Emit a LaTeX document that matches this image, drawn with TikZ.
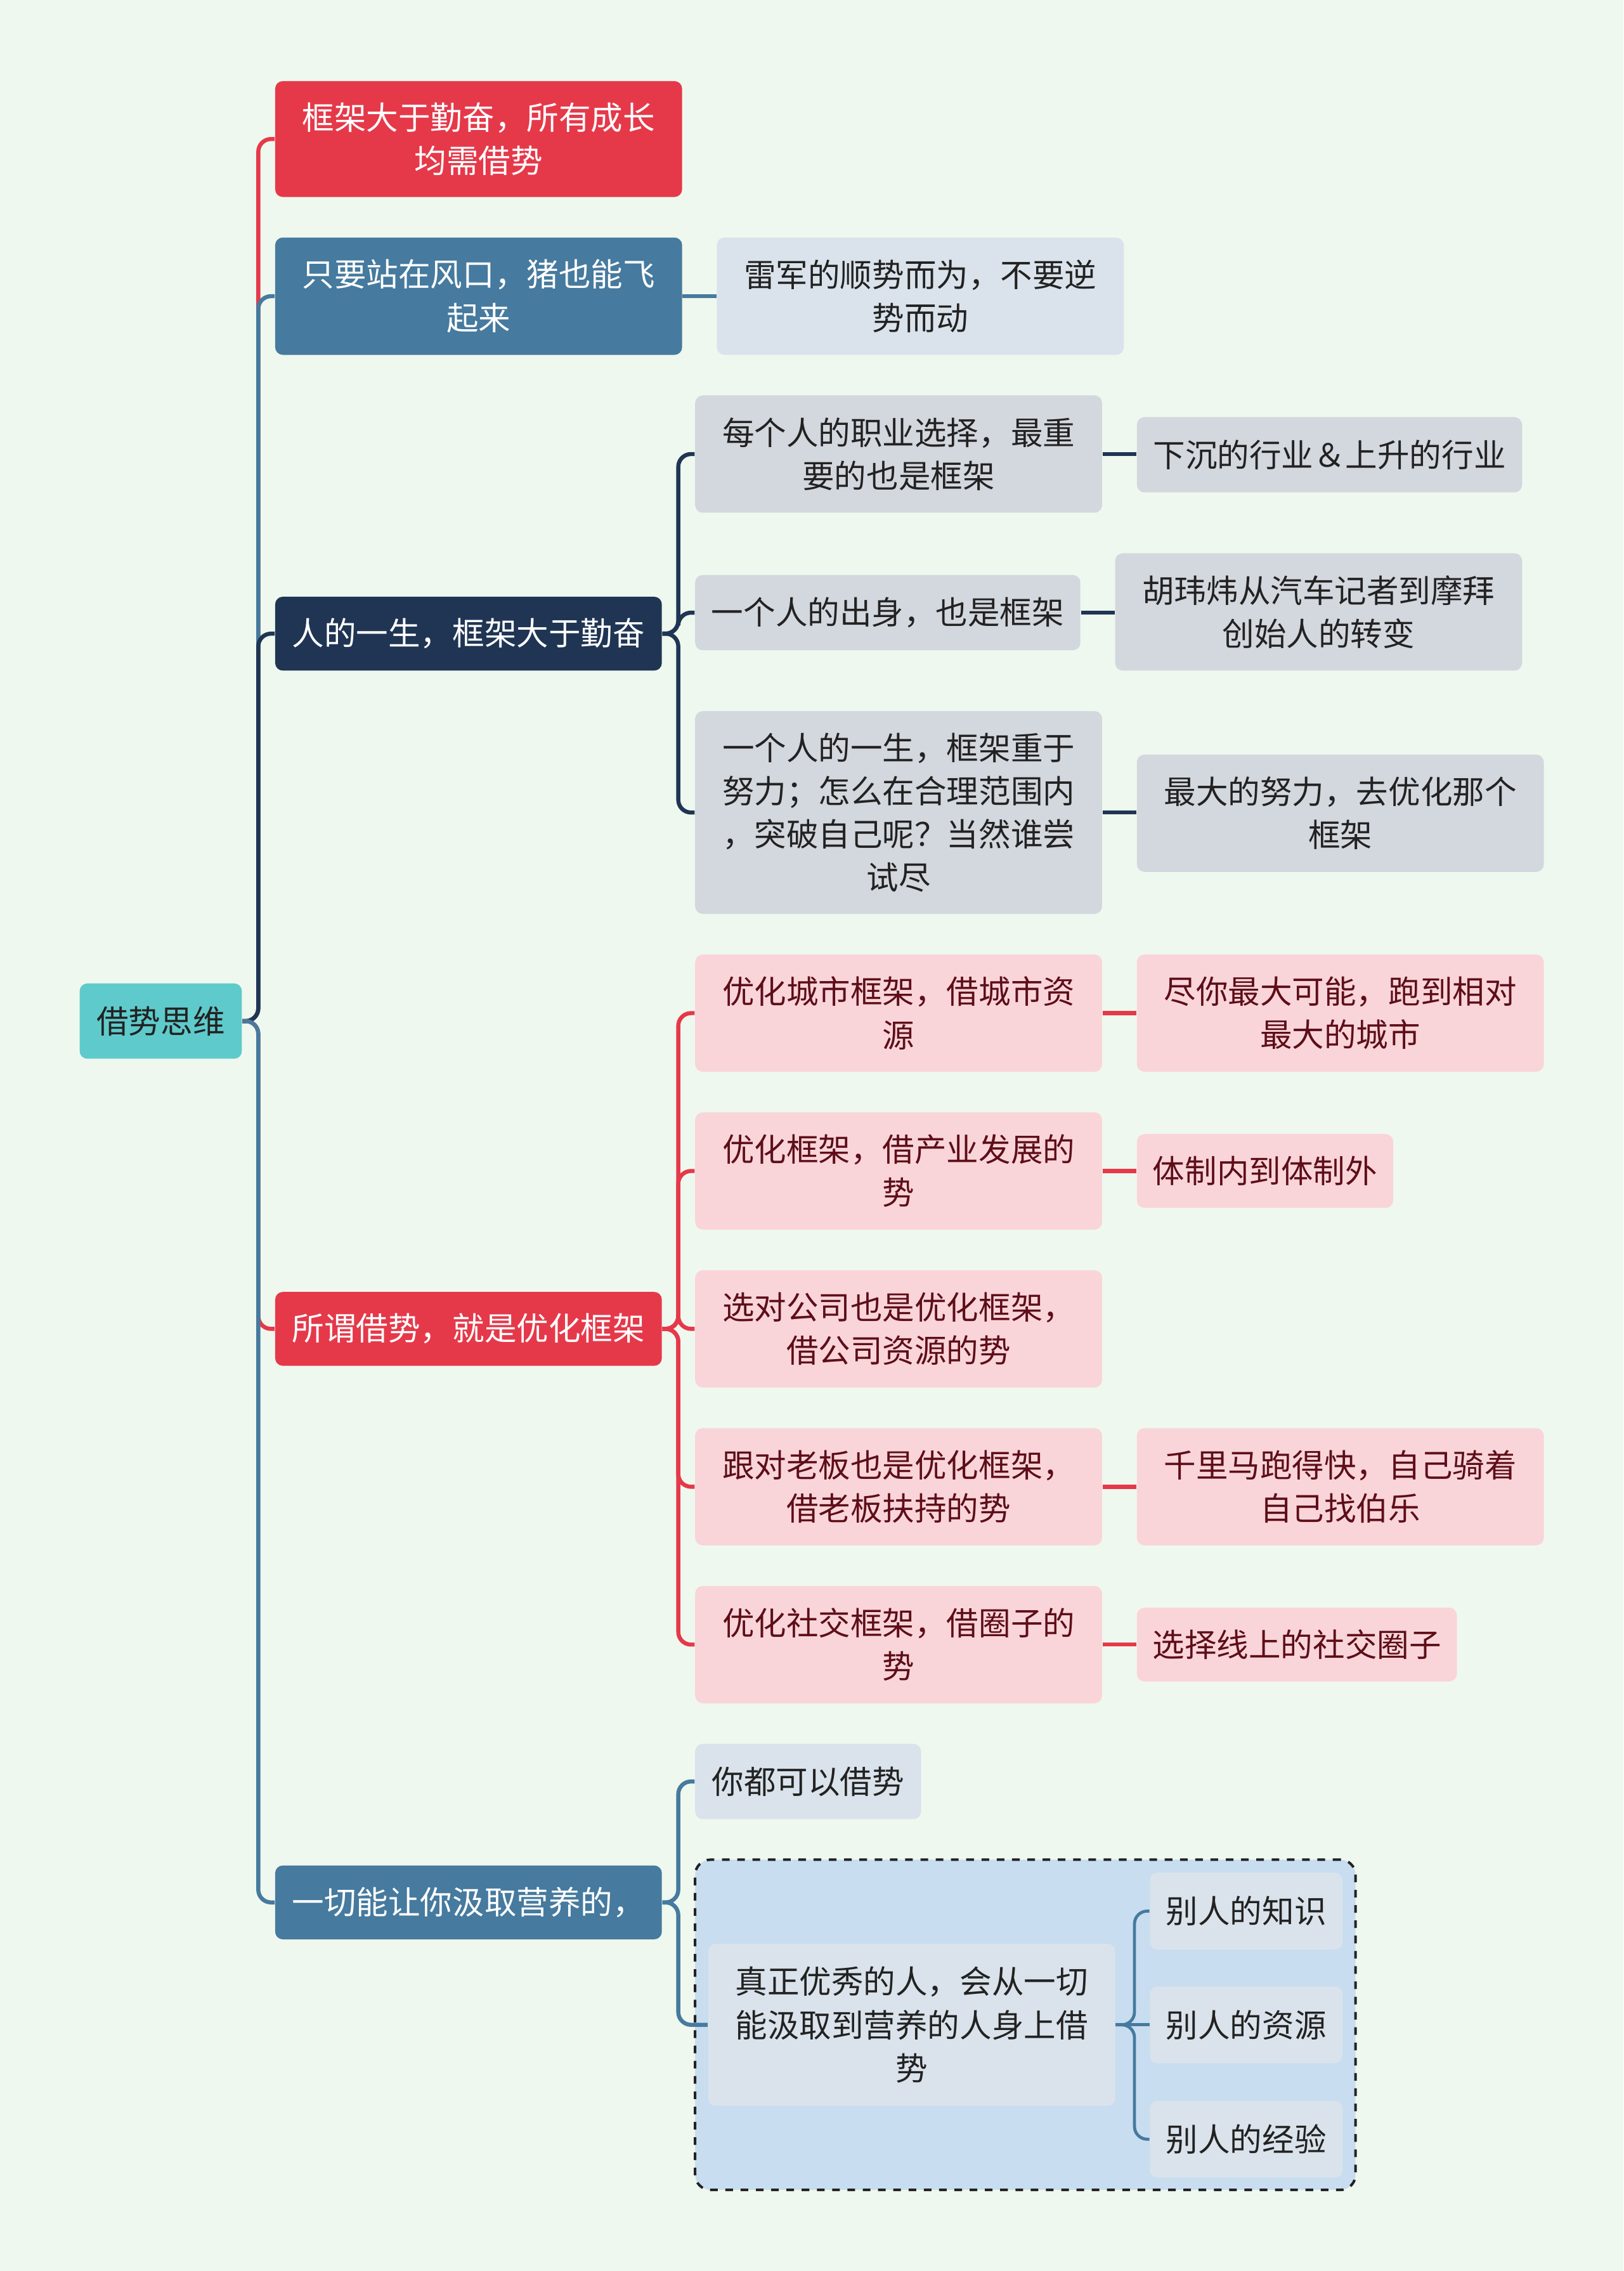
\documentclass[tikz,border=0pt]{standalone}
\usepackage{fontspec}
\setmainfont{Noto Sans CJK SC}
\definecolor{BgClr}{HTML}{EFF8EE}
\definecolor{RedClr}{HTML}{E5394A}
\definecolor{SteelClr}{HTML}{467A9E}
\definecolor{NavyClr}{HTML}{1F3553}
\definecolor{RootClr}{HTML}{5FCACB}
\definecolor{GrayClr}{HTML}{D3D7DE}
\definecolor{PinkClr}{HTML}{F9D5DA}
\definecolor{PaleClr}{HTML}{DAE3EB}
\definecolor{GroupClr}{HTML}{C8DDF0}
\definecolor{MaroonClr}{HTML}{5E0E18}
\definecolor{InkClr}{HTML}{222222}

\begin{document}
\begin{tikzpicture}[x=0.02cm,y=-0.02cm,
  wh/.style 2 args={minimum width=#1*0.02cm,minimum height=#2*0.02cm},
  box/.style={rounded corners=3pt,align=center,inner sep=0pt,font=\fontsize{12.6pt}{17pt}\selectfont},
  rootbox/.style={box,fill=RootClr,text=InkClr},
  topic/.style={box,text=white},
  graybox/.style={box,fill=GrayClr,text=InkClr},
  pinkbox/.style={box,fill=PinkClr,text=MaroonClr},
  palebox/.style={box,fill=PaleClr,text=InkClr},
  groupbox/.style={draw=InkClr,dashed,line width=1pt,fill=GroupClr,rounded corners=6pt},
  link/.style={line width=1.6pt,rounded corners=5pt}]

\fill[BgClr] (0,0) rectangle (1121,1568);
\useasboundingbox (0,0) rectangle (1121,1568);

\node[rootbox,wh={112}{52}] (root) at (111,705) {借势思维};

\node[topic,fill=RedClr,wh={281}{80}] (frame) at (330.5,96) {框架大于勤奋，所有成长\\均需借势};
\node[topic,fill=SteelClr,wh={281}{81}] (wind) at (330.5,204.5) {只要站在风口，猪也能飞\\起来};
\node[topic,fill=NavyClr,wh={267}{51}] (life) at (323.5,437.5) {人的一生，框架大于勤奋};
\node[topic,fill=RedClr,wh={267}{51}] (optim) at (323.5,917.5) {所谓借势，就是优化框架};
\node[topic,fill=SteelClr,wh={267}{51}] (absorb) at (323.5,1313.5) {一切能让你汲取营养的，};

\node[palebox,wh={281}{81}] (wind1) at (635.5,204.5) {雷军的顺势而为，不要逆\\势而动};

\node[graybox,wh={281}{81}] (life1) at (620.5,313.5) {每个人的职业选择，最重\\要的也是框架};
\node[graybox,wh={266}{52}] (life1a) at (918,314) {下沉的行业＆上升的行业};
\node[graybox,wh={266}{52}] (life2) at (613,423) {一个人的出身，也是框架};
\node[graybox,wh={281}{81}] (life2a) at (910.5,422.5) {胡玮炜从汽车记者到摩拜\\创始人的转变};
\node[graybox,wh={281}{140}] (life3) at (620.5,561) {一个人的一生，框架重于\\努力；怎么在合理范围内\\，突破自己呢？当然谁尝\\试尽};
\node[graybox,wh={281}{81}] (life3a) at (925.5,561.5) {最大的努力，去优化那个\\框架};

\node[pinkbox,wh={281}{81}] (optim1) at (620.5,699.5) {优化城市框架，借城市资\\源};
\node[pinkbox,wh={281}{81}] (optim1a) at (925.5,699.5) {尽你最大可能，跑到相对\\最大的城市};
\node[pinkbox,wh={281}{81}] (optim2) at (620.5,808.5) {优化框架，借产业发展的\\势};
\node[pinkbox,wh={177}{51}] (optim2a) at (873.5,808.5) {体制内到体制外};
\node[pinkbox,wh={281}{81}] (optim3) at (620.5,917.5) {选对公司也是优化框架，\\借公司资源的势};
\node[pinkbox,wh={281}{81}] (optim4) at (620.5,1026.5) {跟对老板也是优化框架，\\借老板扶持的势};
\node[pinkbox,wh={281}{81}] (optim4a) at (925.5,1026.5) {千里马跑得快，自己骑着\\自己找伯乐};
\node[pinkbox,wh={281}{81}] (optim5) at (620.5,1135.5) {优化社交框架，借圈子的\\势};
\node[pinkbox,wh={221}{51}] (optim5a) at (895.5,1135.5) {选择线上的社交圈子};

\node[palebox,wh={156}{52}] (absorb1) at (558,1230) {你都可以借势};
\node[groupbox,wh={456}{228}] (group) at (708,1398) {};
\node[palebox,wh={281}{112}] (best) at (629.5,1398) {真正优秀的人，会从一切\\能汲取到营养的人身上借\\势};
\node[palebox,wh={133}{53}] (know) at (860.5,1319.5) {别人的知识};
\node[palebox,wh={133}{53}] (res) at (860.5,1398) {别人的资源};
\node[palebox,wh={133}{53}] (exp) at (860.5,1477) {别人的经验};

\draw[link,RedClr] (root.east) -- ++(11,0) |- (frame.west);
\draw[link,SteelClr] (root.east) -- ++(11,0) |- (wind.west);
\draw[link,NavyClr] (root.east) -- ++(11,0) |- (life.west);
\draw[link,RedClr] (root.east) -- ++(11,0) |- (optim.west);
\draw[link,SteelClr] (root.east) -- ++(11,0) |- (absorb.west);

\draw[link,SteelClr] (wind.east) -- (wind.east -| wind1.west);

\draw[link,NavyClr] (life.east) -- ++(11,0) |- (life1.west);
\draw[link,NavyClr] (life.east) -- ++(11,0) |- (life2.west);
\draw[link,NavyClr] (life.east) -- ++(11,0) |- (life3.west);
\draw[link,NavyClr] (life1.east) -- (life1.east -| life1a.west);
\draw[link,NavyClr] (life2.east) -- (life2.east -| life2a.west);
\draw[link,NavyClr] (life3.east) -- (life3.east -| life3a.west);

\draw[link,RedClr] (optim.east) -- ++(11,0) |- (optim1.west);
\draw[link,RedClr] (optim.east) -- ++(11,0) |- (optim2.west);
\draw[link,RedClr] (optim.east) -- ++(11,0) |- (optim3.west);
\draw[link,RedClr] (optim.east) -- ++(11,0) |- (optim4.west);
\draw[link,RedClr] (optim.east) -- ++(11,0) |- (optim5.west);
\draw[link,RedClr] (optim1.east) -- (optim1.east -| optim1a.west);
\draw[link,RedClr] (optim2.east) -- (optim2.east -| optim2a.west);
\draw[link,RedClr] (optim4.east) -- (optim4.east -| optim4a.west);
\draw[link,RedClr] (optim5.east) -- (optim5.east -| optim5a.west);

\draw[link,SteelClr] (absorb.east) -- ++(11,0) |- (absorb1.west);
\draw[link,SteelClr] (absorb.east) -- ++(11,0) |- (best.west);
\draw[link,SteelClr,line width=1.2pt] (best.east) -- ++(13,0) |- (know.west);
\draw[link,SteelClr,line width=1.2pt] (best.east) -- (res.west);
\draw[link,SteelClr,line width=1.2pt] (best.east) -- ++(13,0) |- (exp.west);

\end{tikzpicture}
\end{document}
